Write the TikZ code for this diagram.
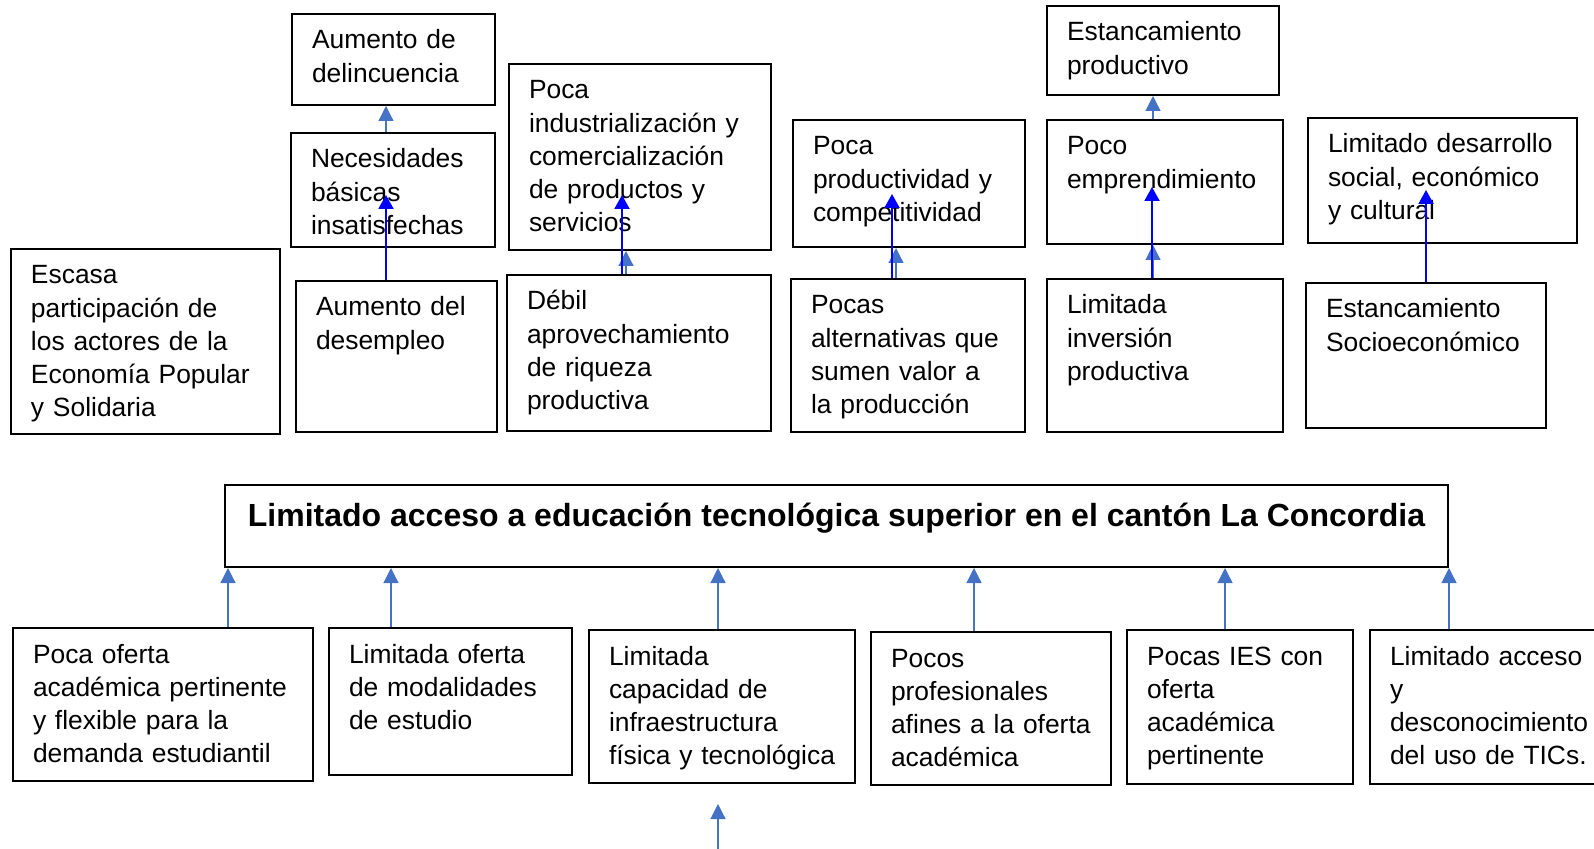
\documentclass[tikz,border=0pt]{standalone}
\usepackage{fontspec}
\setmainfont{Liberation Sans}
\usetikzlibrary{arrows.meta}
\definecolor{azulclaro}{RGB}{68,114,196}
\definecolor{azul}{RGB}{0,0,255}
\tikzset{
  caja/.style={draw, line width=1pt, anchor=north west, align=left, inner xsep=10pt, inner ysep=4pt, text height=13.5pt, font=\fontsize{13.2}{16.6}\selectfont},
  flecha/.style={-{Triangle[width=7.5pt,length=7.5pt]}, draw=azulclaro, fill=azulclaro, line width=0.6pt},
  flechaazul/.style={-{Triangle[width=7.5pt,length=7pt]}, draw=azul, fill=azul, line width=1pt}
}

\begin{document}
\begin{tikzpicture}[x=0.5pt, y=-0.5pt]
\useasboundingbox (0,0) rectangle (1594,849);
% efectos
\node[caja, text width=81.5pt, text depth=24pt] (delin) at (291,13) {Aumento de\\delincuencia};
\node[caja, text width=82pt, text depth=35.5pt] (necesid) at (290,132) {Necesidades\\básicas\\insatisfechas};
\node[caja, text width=111pt, text depth=71.5pt] (indust) at (508,63) {Poca\\industrialización y\\comercialización\\de productos y\\servicios};
\node[caja, text width=96pt, text depth=23pt] (estprod) at (1046,5) {Estancamiento\\productivo};
\node[caja, text width=96pt, text depth=42pt] (product) at (792,119) {Poca\\productividad y\\competitividad};
\node[caja, text width=98pt, text depth=40.5pt] (empren) at (1046,119) {Poco\\emprendimiento};
\node[caja, text width=114.5pt, text depth=41pt] (desarr) at (1307,117) {Limitado desarrollo\\social, económico\\y cultural};
\node[caja, text width=114.5pt, text depth=71pt] (escasa) at (10,248) {Escasa\\participación de\\los actores de la\\Economía Popular\\y Solidaria};
\node[caja, text width=80.5pt, text depth=54pt] (desemp) at (295,280) {Aumento del\\desempleo};
\node[caja, text width=112pt, text depth=56.5pt] (debil) at (506,274) {Débil\\aprovechamiento\\de riqueza\\productiva};
\node[caja, text width=97pt, text depth=55pt] (altern) at (790,278) {Pocas\\alternativas que\\sumen valor a\\la producción};
\node[caja, text width=98pt, text depth=55pt] (invers) at (1046,278) {Limitada\\inversión\\productiva};
\node[caja, text width=100pt, text depth=51pt] (socio) at (1305,282) {Estancamiento\\Socioeconómico};
% problema central
\node[draw, line width=1pt, anchor=north west, minimum width=611.5pt, inner xsep=0pt, inner ysep=4pt, text height=16.5pt, text depth=16.5pt, font=\bfseries\fontsize{16}{19}\selectfont] (titulo) at (224,484) {Limitado acceso a educación tecnológica superior en el cantón La Concordia};
% causas
\node[caja, text width=130pt, text depth=55pt] (oferta) at (12,627) {Poca oferta\\académica pertinente\\y flexible para la\\demanda estudiantil};
\node[caja, text width=101.5pt, text depth=52pt] (modal) at (328,627) {Limitada oferta\\de modalidades\\de estudio};
\node[caja, text width=113pt, text depth=55pt] (capac) at (588,629) {Limitada\\capacidad de\\infraestructura\\física y tecnológica};
\node[caja, text width=100pt, text depth=55pt] (profes) at (870,631) {Pocos\\profesionales\\afines a la oferta\\académica};
\node[caja, text width=93pt, text depth=55.5pt] (ies) at (1126,629) {Pocas IES con\\oferta\\académica\\pertinente};
\node[caja, text width=100.5pt, text depth=55.5pt] (acceso) at (1369,629) {Limitado acceso\\y\\desconocimiento\\del uso de TICs.};
% flechas causas
\draw[flecha] ([xshift=108pt]oferta.north west) -- ([xshift=108pt]oferta.north west |- titulo.south);
\draw[flecha] ([xshift=31.5pt]modal.north west) -- ([xshift=31.5pt]modal.north west |- titulo.south);
\draw[flecha] ([xshift=65pt]capac.north west) -- ([xshift=65pt]capac.north west |- titulo.south);
\draw[flecha] ([xshift=52pt]profes.north west) -- ([xshift=52pt]profes.north west |- titulo.south);
\draw[flecha] ([xshift=49.5pt]ies.north west) -- ([xshift=49.5pt]ies.north west |- titulo.south);
\draw[flecha] ([xshift=40pt]acceso.north west) -- ([xshift=40pt]acceso.north west |- titulo.south);
\coordinate (pie1) at (718,852);
\coordinate (pie2) at (718,804);
\draw[flecha] (pie1) -- (pie2);
% flechas efectos
\draw[flecha] ([xshift=48pt]necesid.north west) -- ([xshift=48pt]necesid.north west |- delin.south);
\draw[flecha] ([xshift=60pt]debil.north west) -- ([xshift=60pt]debil.north west |- indust.south);
\draw[flecha] ([xshift=53pt]altern.north west) -- ([xshift=53pt]altern.north west |- product.south);
\draw[flecha] ([xshift=53.5pt]invers.north west) -- ([xshift=53.5pt]invers.north west |- empren.south);
\draw[flecha] ([xshift=53.5pt]empren.north west) -- ([xshift=53.5pt]empren.north west |- estprod.south);
\draw[flechaazul] ([xshift=45.5pt]desemp.north west) -- ([xshift=45.5pt,yshift=26.5pt]desemp.north west |- necesid.south);
\draw[flechaazul] ([xshift=58pt]debil.north west) -- ([xshift=58pt,yshift=28pt]debil.north west |- indust.south);
\draw[flechaazul] ([xshift=51pt]altern.north west) -- ([xshift=51pt,yshift=27pt]altern.north west |- product.south);
\draw[flechaazul] ([xshift=53pt]invers.north west) -- ([xshift=53pt,yshift=29pt]invers.north west |- empren.south);
\draw[flechaazul] ([xshift=60.5pt]socio.north west) -- ([xshift=60.5pt,yshift=27pt]socio.north west |- desarr.south);
\end{tikzpicture}
\end{document}
